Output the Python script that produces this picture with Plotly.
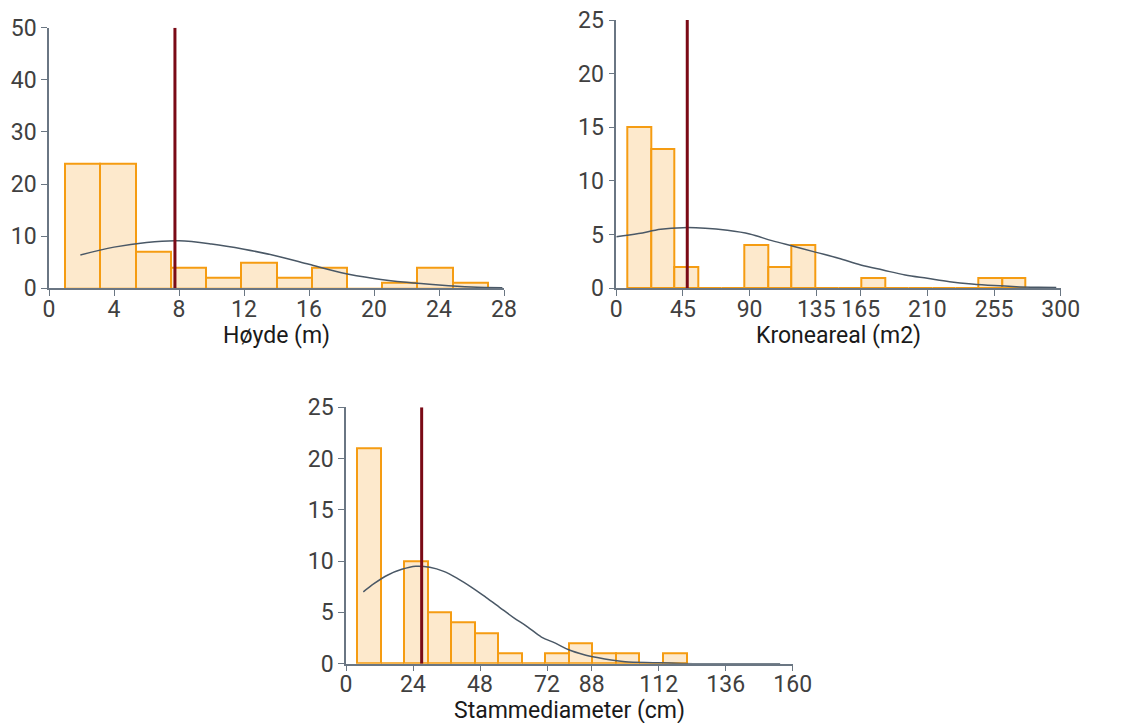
import plotly.graph_objects as go

# ---------------- data ----------------
# Høyde (m)
hoyde_bin_start = 1.0
hoyde_bin_width = 2.1667
hoyde_counts = [24, 24, 7, 4, 2, 5, 2, 4, 0, 1, 4, 1]
hoyde_mean = 7.75
hoyde_curve_x = [1.93, 4, 6, 8, 10, 12, 14, 16, 18, 20, 22, 24, 26, 27.9]
hoyde_curve_y = [6.4, 7.9, 8.8, 9.1, 8.5, 7.5, 6.2, 4.6, 3.0, 1.9, 1.15, 0.63, 0.25, 0.1]
hoyde_ticks = [0, 4, 8, 12, 16, 20, 24, 28]

# Kroneareal (m2)
krone_bin_start = 7.65
krone_bin_width = 15.8
krone_counts = [15, 13, 2, 0, 0, 4, 2, 4, 0, 0, 1, 0, 0, 0, 0, 1, 1]
krone_mean = 47.9
krone_curve_x = [0, 15, 30, 45, 60, 75, 90, 105, 120, 135, 150, 165, 180, 195, 210, 225, 240, 255, 270, 285, 297]
krone_curve_y = [4.8, 5.1, 5.5, 5.65, 5.6, 5.4, 5.06, 4.44, 3.9, 3.35, 2.8, 2.17, 1.7, 1.24, 0.93, 0.62, 0.4, 0.25, 0.15, 0.1, 0.08]
krone_ticks = [0, 45, 90, 135, 165, 210, 255, 300]

# Stammediameter (cm)
stamme_bin_start = 3.94
stamme_bin_width = 8.43
stamme_counts = [21, 0, 10, 5, 4, 3, 1, 0, 1, 2, 1, 1, 0, 1]
stamme_mean = 27.1
stamme_curve_x = [6.2, 10, 15, 20, 25, 30, 35, 40, 45, 50, 55, 60, 65, 70, 75, 80, 85, 90, 95, 100, 110, 120, 155.5]
stamme_curve_y = [7.0, 7.8, 8.65, 9.2, 9.5, 9.4, 9.0, 8.3, 7.45, 6.5, 5.5, 4.5, 3.6, 2.6, 2.0, 1.33, 0.9, 0.6, 0.36, 0.2, 0.1, 0.03, 0.0]
stamme_ticks = [0, 24, 48, 72, 88, 112, 136, 160]

# ---------------- styling ----------------
BAR_FILL = "#fde9cc"
BAR_LINE = "#f59c12"
MEAN_COLOR = "#7a0a16"
CURVE_COLOR = "#4a5866"
AXIS_COLOR = "#6a7683"
TICK_FONT = dict(family="Roboto", size=23, color="#404040")
TITLE_FONT = dict(family="Roboto", size=23, color="#1a1a1a")

W, H = 1129, 723

panels = [
    dict(start=hoyde_bin_start, width=hoyde_bin_width, counts=hoyde_counts, mean=hoyde_mean,
         cx=hoyde_curve_x, cy=hoyde_curve_y, ticks=hoyde_ticks, xmax=28, ymax=50, dy=10,
         title="Høyde (m)", px=(49, 504), py=(27.7, 288.3), ty=335),
    dict(start=krone_bin_start, width=krone_bin_width, counts=krone_counts, mean=krone_mean,
         cx=krone_curve_x, cy=krone_curve_y, ticks=krone_ticks, xmax=300, ymax=25, dy=5,
         title="Kroneareal (m2)", px=(616.3, 1060.7), py=(20, 288.3), ty=335.5),
    dict(start=stamme_bin_start, width=stamme_bin_width, counts=stamme_counts, mean=stamme_mean,
         cx=stamme_curve_x, cy=stamme_curve_y, ticks=stamme_ticks, xmax=160, ymax=25, dy=5,
         title="Stammediameter (cm)", px=(346, 792.7), py=(407.3, 663.7), ty=710),
]

fig = go.Figure()
layout = {}
annotations = []
for i, p in enumerate(panels, start=1):
    xa = "x" if i == 1 else f"x{i}"
    ya = "y" if i == 1 else f"y{i}"
    centers = [p["start"] + p["width"] * (k + 0.5) for k in range(len(p["counts"]))]
    fig.add_trace(go.Bar(x=centers, y=p["counts"], width=[p["width"]] * len(p["counts"]),
                         marker=dict(color=BAR_FILL, line=dict(color=BAR_LINE, width=2)),
                         xaxis=xa, yaxis=ya, showlegend=False, hoverinfo="skip"))
    fig.add_trace(go.Scatter(x=p["cx"], y=p["cy"], mode="lines", line=dict(color=CURVE_COLOR, width=1.5, shape="spline"),
                             xaxis=xa, yaxis=ya, showlegend=False, hoverinfo="skip"))
    fig.add_trace(go.Scatter(x=[p["mean"], p["mean"]], y=[0, p["ymax"]], mode="lines",
                             line=dict(color=MEAN_COLOR, width=3),
                             xaxis=xa, yaxis=ya, showlegend=False, hoverinfo="skip"))
    xk = "xaxis" if i == 1 else f"xaxis{i}"
    yk = "yaxis" if i == 1 else f"yaxis{i}"
    layout[xk] = dict(domain=[p["px"][0] / W, p["px"][1] / W], range=[0, p["xmax"]],
                      tickvals=p["ticks"], ticktext=[str(t) for t in p["ticks"]],
                      showgrid=False, zeroline=False, showline=True, linecolor=AXIS_COLOR, linewidth=1.5,
                      ticks="outside", ticklen=6, tickcolor=AXIS_COLOR, tickfont=TICK_FONT,
                      ticklabelstandoff=-7, automargin=False, anchor=ya)
    layout[yk] = dict(domain=[1 - p["py"][1] / H, 1 - p["py"][0] / H], range=[0, p["ymax"]],
                      dtick=p["dy"], showgrid=False, zeroline=False, showline=True, linecolor=AXIS_COLOR,
                      linewidth=1.5, ticks="outside", ticklen=6, tickcolor=AXIS_COLOR, tickfont=TICK_FONT,
                      automargin=False, anchor=xa)
    annotations.append(dict(text=p["title"], xref="paper", yref="paper",
                            x=(p["px"][0] + p["px"][1]) / 2 / W, y=1 - p["ty"] / H,
                            xanchor="center", yanchor="middle", showarrow=False, font=TITLE_FONT))

fig.update_layout(width=W, height=H, margin=dict(l=0, r=0, t=0, b=0),
                  paper_bgcolor="white", plot_bgcolor="white", bargap=0,
                  font=dict(family="Roboto"), annotations=annotations, **layout)
fig.write_html("out.html")
